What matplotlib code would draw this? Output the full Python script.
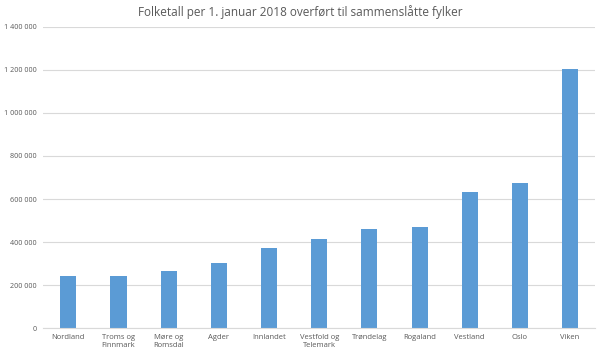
import matplotlib
matplotlib.use("Agg")
import matplotlib.pyplot as plt
from matplotlib.ticker import FuncFormatter

fylker = ["Nordland", "Troms og\nFinnmark", "Møre og\nRomsdal", "Agder", "Innlandet",
          "Vestfold og\nTelemark", "Trøndelag", "Rogaland", "Vestland", "Oslo", "Viken"]
folketall = [241000, 243000, 266000, 304000, 371000, 416000, 459000, 472000, 632000, 673000, 1205000]

plt.rcParams['font.family'] = ['Open Sans', 'DejaVu Sans']

fig = plt.figure(figsize=(6, 3.56), dpi=100)
ax = fig.add_axes([0.072, 0.078, 0.92, 0.847])

ax.bar(range(len(fylker)), folketall, width=0.32, color="#5B9BD5", zorder=2)

ax.set_ylim(0, 1400000)
ax.set_yticks(range(0, 1400001, 200000))
ax.yaxis.set_major_formatter(FuncFormatter(lambda v, p: f"{int(v):,}".replace(",", " ")))
ax.set_xlim(-0.5, len(fylker) - 0.5)
ax.set_xticks(range(len(fylker)))
ax.set_xticklabels(fylker, fontsize=5.5, color="#595959", linespacing=1.3)
ax.tick_params(axis="y", labelsize=5.2, labelcolor="#595959", length=0, pad=5)
ax.tick_params(axis="x", length=0, pad=4)
ax.grid(axis="y", color="#d9d9d9", linewidth=0.8, zorder=0)
for s in ["top", "right", "left"]:
    ax.spines[s].set_visible(False)
ax.spines["bottom"].set_color("#d9d9d9")

fig.suptitle("Folketall per 1. januar 2018 overført til sammenslåtte fylker",
             fontsize=8.5, color="#595959", y=0.985)

plt.savefig("out.png")
